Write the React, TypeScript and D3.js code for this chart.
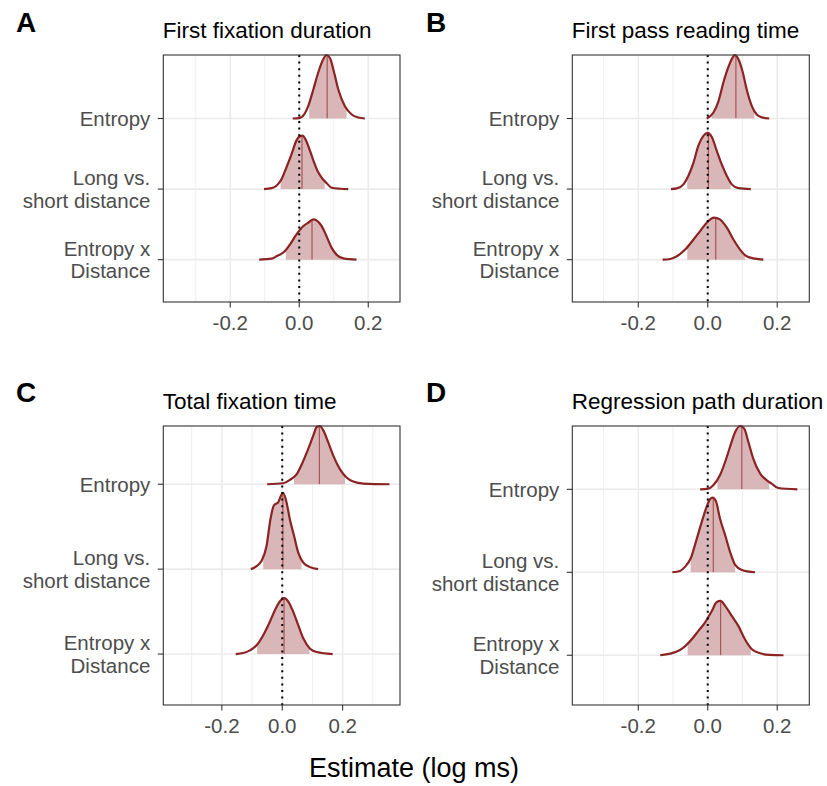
import React from "react";
import * as d3 from "d3";

// row labels, top to bottom
const rowLabels = [["Entropy"], ["Long vs.", "short distance"], ["Entropy x", "Distance"]];
const panelLetters = ["A", "B", "C", "D"];
const panelTitles = ["First fixation duration", "First pass reading time", "Total fixation time", "Regression path duration"];
const xTicks = [-0.2, 0, 0.2];
const xLabel = "Estimate (log ms)";

// posterior densities read off the ridges: [estimate, density]
const ffdEntropy = [[-0.019, 0], [0.002, 0.2], [0.016, 1.5], [0.026, 3.7], [0.041, 8.7], [0.055, 13.7], [0.07, 17.7], [0.079, 18.9], [0.089, 18.0], [0.101, 13.7], [0.113, 8.7], [0.132, 3.7], [0.152, 1.2], [0.171, 0.3], [0.19, 0]];
const ffdLong = [[-0.102, 0], [-0.08, 0.3], [-0.066, 1.0], [-0.051, 3.0], [-0.037, 6.5], [-0.022, 10.5], [-0.008, 14.5], [0.002, 15.7], [0.01, 15.9], [0.017, 15.0], [0.029, 12.0], [0.041, 8.5], [0.055, 5.0], [0.068, 3.0], [0.079, 1.8], [0.094, 0.4], [0.118, 0.1], [0.142, 0]];
const ffdInter = [[-0.116, 0], [-0.08, 0.3], [-0.066, 1.0], [-0.042, 2.5], [-0.027, 4.5], [-0.008, 7.5], [0.012, 10.0], [0.029, 11.2], [0.041, 12.0], [0.05, 11.7], [0.065, 10.0], [0.079, 7.0], [0.094, 3.5], [0.108, 1.5], [0.128, 0.4], [0.166, 0]];

const fprEntropy = [[-0.003, 0], [0.016, 1.7], [0.031, 5.2], [0.045, 10.7], [0.059, 15.2], [0.072, 18.2], [0.078, 18.9], [0.088, 17.7], [0.101, 13.7], [0.112, 8.7], [0.127, 3.7], [0.141, 1.2], [0.155, 0.4], [0.177, 0]];
const fprLong = [[-0.106, 0], [-0.089, 0.2], [-0.07, 1.4], [-0.056, 3.9], [-0.041, 7.9], [-0.027, 12.9], [-0.012, 15.9], [0, 16.7], [0.012, 15.4], [0.026, 11.4], [0.04, 7.4], [0.055, 3.9], [0.069, 1.4], [0.088, 0.3], [0.124, 0]];
const fprInter = [[-0.13, 0], [-0.108, 0.2], [-0.089, 1.0], [-0.065, 3.0], [-0.041, 6.0], [-0.022, 8.5], [-0.003, 11.0], [0.018, 12.5], [0.035, 12.0], [0.055, 9.5], [0.074, 6.0], [0.093, 3.0], [0.112, 1.0], [0.136, 0.3], [0.16, 0]];

const tftEntropy = [[-0.05, 0], [0.003, 0.3], [0.025, 1.3], [0.048, 3.0], [0.07, 7.0], [0.086, 10.5], [0.103, 14.5], [0.114, 17.0], [0.125, 17.3], [0.136, 16.0], [0.152, 12.5], [0.169, 8.5], [0.191, 4.5], [0.213, 2.0], [0.235, 0.8], [0.269, 0.2], [0.355, 0]];
const tftLong = [[-0.104, 0], [-0.085, 0.9], [-0.069, 2.4], [-0.052, 6.9], [-0.039, 14.9], [-0.028, 18.9], [-0.013, 19.9], [-0.004, 21.9], [0.003, 22.7], [0.014, 19.9], [0.025, 14.9], [0.039, 9.9], [0.053, 4.9], [0.07, 1.9], [0.092, 0.6], [0.119, 0]];
const tftInter = [[-0.154, 0], [-0.129, 0.3], [-0.107, 1.1], [-0.085, 2.6], [-0.063, 5.6], [-0.041, 9.6], [-0.024, 13.1], [-0.008, 15.6], [0.007, 16.6], [0.02, 15.6], [0.036, 12.6], [0.053, 8.6], [0.07, 4.6], [0.092, 1.6], [0.114, 0.6], [0.167, 0]];

const rpdEntropy = [[-0.022, 0], [0.002, 0.2], [0.016, 1.2], [0.035, 4.2], [0.05, 8.2], [0.064, 12.7], [0.079, 17.2], [0.093, 19.0], [0.105, 18.2], [0.117, 14.2], [0.131, 9.2], [0.151, 4.7], [0.17, 2.7], [0.184, 1.7], [0.203, 0.4], [0.258, 0]];
const rpdLong = [[-0.102, 0], [-0.08, 0.4], [-0.065, 1.7], [-0.049, 4.2], [-0.034, 9.2], [-0.017, 15.2], [-0.003, 19.7], [0.007, 22.0], [0.014, 22.4], [0.024, 21.2], [0.035, 16.2], [0.05, 11.2], [0.064, 6.2], [0.079, 2.2], [0.098, 0.7], [0.136, 0]];
const rpdInter = [[-0.137, 0], [-0.108, 0.5], [-0.089, 1.1], [-0.07, 2.3], [-0.046, 4.8], [-0.027, 7.3], [-0.008, 9.8], [0.012, 13.3], [0.026, 16.0], [0.037, 16.3], [0.05, 14.8], [0.069, 11.8], [0.088, 8.8], [0.107, 4.8], [0.127, 1.8], [0.151, 0.6], [0.179, 0.1], [0.218, 0]];

// 2.5% quantile, median, 97.5% quantile per row (top to bottom)
const ffdQuantiles = [[0.029, 0.081, 0.137], [-0.054, 0.008, 0.074], [-0.039, 0.037, 0.128]];
const fprQuantiles = [[0.012, 0.081, 0.134], [-0.059, 0.002, 0.066], [-0.059, 0.023, 0.107]];
const tftQuantiles = [[0.039, 0.123, 0.208], [-0.063, 0.002, 0.064], [-0.083, 0.006, 0.09]];
const rpdQuantiles = [[0.028, 0.098, 0.177], [-0.049, 0.016, 0.079], [-0.058, 0.037, 0.124]];

const panels = [
  { rows: [ffdEntropy, ffdLong, ffdInter], q: ffdQuantiles, xDomain: [-0.394, 0.292], left: 163.3, top: 55, width: 236.7, height: 247, letterX: 16, letterY: 32 },
  { rows: [fprEntropy, fprLong, fprInter], q: fprQuantiles, xDomain: [-0.39, 0.2924], left: 572.3, top: 55, width: 237, height: 247, letterX: 426, letterY: 32 },
  { rows: [tftEntropy, tftLong, tftInter], q: tftQuantiles, xDomain: [-0.394, 0.39], left: 163.3, top: 426, width: 236.7, height: 279, letterX: 16, letterY: 402 },
  { rows: [rpdEntropy, rpdLong, rpdInter], q: rpdQuantiles, xDomain: [-0.39, 0.2924], left: 572.3, top: 426, width: 237, height: 279, letterX: 426, letterY: 402 },
];

const font = "'Liberation Sans', Arial, Helvetica, sans-serif";
const outline = "#8b2323";
const fillCol = "#d9b7b8";
const medianCol = "#a85555";

function Panel({ p, i }: { p: any; i: number }) {
  const x = d3.scaleLinear().domain(p.xDomain).range([p.left, p.left + p.width]);
  const maxD = d3.max(p.rows.flat(), (d: any) => d[1]) as number;
  const hgt = (d: number) => (0.9 * d) / maxD;
  const rowPos = (r: number) => 3 - r;
  const yTop = Math.max(3.6, d3.max(p.rows, (r: any, k: number) => rowPos(k) + hgt(d3.max(r, (d: any) => d[1]) as number)) as number);
  const y = d3.scaleLinear().domain([0.4, yTop]).range([p.top + p.height, p.top]);
  const bottom = p.top + p.height;
  const right = p.left + p.width;
  const minor = x.ticks(8).filter((t) => Math.abs(Math.round(t * 10)) % 2 === 1);

  return (
    <g>
      <text x={p.letterX} y={p.letterY} fontSize={28} fontWeight="bold" fill="#000">{panelLetters[i]}</text>
      <text x={p.left - 0.5} y={p.top - 17} fontSize={22.5} fill="#000">{panelTitles[i]}</text>
      {minor.map((t) => (
        <line key={"mn" + t} x1={x(t)} x2={x(t)} y1={p.top} y2={bottom} stroke="#ebebeb" strokeWidth={0.8} />
      ))}
      {xTicks.map((t) => (
        <line key={"mj" + t} x1={x(t)} x2={x(t)} y1={p.top} y2={bottom} stroke="#ebebeb" strokeWidth={1.6} />
      ))}
      {rowLabels.map((_, k) => (
        <line key={"hg" + k} x1={p.left} x2={right} y1={y(rowPos(k))} y2={y(rowPos(k))} stroke="#ebebeb" strokeWidth={1.6} />
      ))}
      {p.rows.map((r: any, k: number) => {
        const base = rowPos(k);
        const area = d3.area<any>().x((d) => x(d[0])).y0(y(base)).y1((d) => y(base + hgt(d[1]))).curve(d3.curveMonotoneX);
        const line = d3.line<any>().x((d) => x(d[0])).y((d) => y(base + hgt(d[1]))).curve(d3.curveMonotoneX);
        const [lo, med, hi] = p.q[k];
        const id = `p${i}r${k}`;
        return (
          <g key={id}>
            <defs>
              <clipPath id={id + "q"}>
                <rect x={x(lo)} y={p.top} width={x(hi) - x(lo)} height={p.height} />
              </clipPath>
              <clipPath id={id + "a"}>
                <path d={area(r) as string} />
              </clipPath>
            </defs>
            <path d={area(r) as string} fill={fillCol} clipPath={`url(#${id}q)`} />
            <line x1={x(med)} x2={x(med)} y1={y(base)} y2={y(base + 1)} stroke={medianCol} strokeWidth={1.2} clipPath={`url(#${id}a)`} />
            <path d={line(r) as string} fill="none" stroke={outline} strokeWidth={2.2} strokeLinejoin="round" strokeLinecap="butt" />
          </g>
        );
      })}
      <line x1={x(0)} x2={x(0)} y1={p.top} y2={bottom} stroke="#000" strokeWidth={2} strokeDasharray="2 4.6" />
      <rect x={p.left} y={p.top} width={p.width} height={p.height} fill="none" stroke="#333" strokeWidth={1.1} />
      {xTicks.map((t) => (
        <g key={"xt" + t}>
          <line x1={x(t)} x2={x(t)} y1={bottom} y2={bottom + 5.5} stroke="#333" strokeWidth={1.1} />
          <text x={x(t)} y={bottom + 28} textAnchor="middle" fontSize={20.5} fill="#4d4d4d">{t === 0 ? "0.0" : d3.format(".1f")(t).replace("−", "-")}</text>
        </g>
      ))}
      {rowLabels.map((lab, k) => {
        const ty = y(rowPos(k));
        return (
          <g key={"yl" + k}>
            <line x1={p.left - 5.5} x2={p.left} y1={ty} y2={ty} stroke="#333" strokeWidth={1.1} />
            {lab.map((s, j) => (
              <text key={j} x={p.left - 13} y={ty + (j - (lab.length - 1) / 2) * 22.5 + 7.3} textAnchor="end" fontSize={20.5} fill="#4d4d4d">{s}</text>
            ))}
          </g>
        );
      })}
    </g>
  );
}

export default function App() {
  return (
    <svg width={827} height={786} style={{ position: "absolute", left: 0, top: 0, background: "#fff" }} fontFamily={font}>
      <rect width={827} height={786} fill="#fff" />
      {panels.map((p, i) => (
        <Panel key={i} p={p} i={i} />
      ))}
      <text x={414} y={777} textAnchor="middle" fontSize={27} fill="#000">{xLabel}</text>
    </svg>
  );
}
